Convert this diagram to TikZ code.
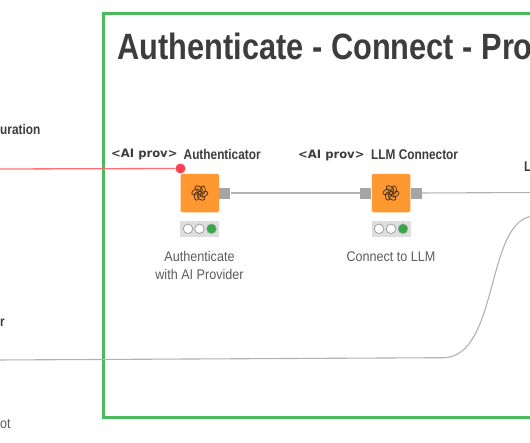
\documentclass[tikz,border=0pt]{standalone}
\usepackage{fontspec}
\setmainfont{Liberation Sans}
\newfontfamily\condfont[FakeStretch=0.84]{Liberation Sans}
\newfontfamily\captionfont[FakeStretch=0.9]{Liberation Sans}
\newfontfamily\provfont{DejaVu Sans}
\usetikzlibrary{calc}
\definecolor{framegreen}{RGB}{76,187,92}
\definecolor{nodeorange}{RGB}{255,152,48}
\definecolor{knotbrown}{RGB}{84,52,24}
\definecolor{portgray}{RGB}{165,165,165}
\definecolor{wiregray}{RGB}{178,178,178}
\definecolor{lampgray}{RGB}{222,222,222}
\definecolor{lampgreen}{RGB}{52,168,70}
\definecolor{flowred}{RGB}{255,112,120}
\definecolor{dotred}{RGB}{250,66,84}
\definecolor{inkdark}{RGB}{62,60,60}
\definecolor{inkgray}{RGB}{92,92,96}

\tikzset{
    knimenode/.style={fill=nodeorange, draw=none, rounded corners=1.5pt, minimum width=38.5pt, minimum height=38.5pt, inner sep=0pt},
    portbox/.style={fill=portgray, draw=none, minimum width=11pt, minimum height=11pt, inner sep=0pt},
    statusbar/.style={fill=lampgray, draw=none, minimum width=39pt, minimum height=15.5pt, inner sep=0pt},
    lampoff/.style={circle, fill=white, draw=gray!80, line width=0.7pt, minimum size=9.5pt, inner sep=0pt},
    lampon/.style={circle, fill=lampgreen, draw=gray!60, line width=0.5pt, minimum size=10pt, inner sep=0pt},
    wire/.style={draw=wiregray, line width=1.1pt},
    knot/.style={draw=knotbrown, line width=0.8pt},
    headlabel/.style={text=inkdark, font=\condfont\bfseries\fontsize{14.1}{16}\selectfont, inner sep=0pt},
    provlabel/.style={text=inkdark, font=\provfont\bfseries\fontsize{11.6}{14}\selectfont, inner sep=0pt},
    caption/.style={text=inkgray, font=\captionfont\fontsize{14}{18}\selectfont, align=center, inner sep=0pt}
}

\begin{document}
\begin{tikzpicture}[x=10pt, y=-10pt]
    \useasboundingbox (0,0) rectangle (53,44.2);
    \fill[white] (0,0) rectangle (53,44.2);

    % Frame
    \draw[framegreen, line width=2.5pt] (54,1.35) -- (10.35,1.35) -- (10.35,41.75) -- (54,41.75);
    \node[text=inkdark, font=\condfont\bfseries\fontsize{36.6}{40}\selectfont, anchor=base west, inner sep=0pt] (title) at (11.75,5.95) {Authenticate - Connect - Pro};

    % Cut off labels
    \node[headlabel, anchor=base west] (leftone) at (0,13.45) {uration};
    \node[headlabel, anchor=base west] (lefttwo) at (0,32.65) {r};
    \node[text=inkgray, font=\captionfont\fontsize{14}{16}\selectfont, anchor=base west, inner sep=0pt] (leftthree) at (0,42.85) {ot};
    \node[headlabel, anchor=base west] (rightone) at (52.4,17.15) {L};

    % Nodes
    \node[knimenode] (auth) at (19.98,19.3) {};
    \node[portbox, anchor=west] (authout) at (auth.east) {};
    \node[statusbar] (authstat) at (19.98,22.88) {};
    \node[lampoff] (authlampa) at (18.8,22.88) {};
    \node[lampoff] (authlampb) at (19.95,22.88) {};
    \node[lampon] (authlampc) at (21.15,22.88) {};

    \node[knimenode] (conn) at (39.1,19.3) {};
    \node[portbox, anchor=east] (connin) at (conn.west) {};
    \node[portbox, anchor=west] (connout) at (conn.east) {};
    \node[statusbar] (connstat) at (39.1,22.88) {};
    \node[lampoff] (connlampa) at (37.9,22.88) {};
    \node[lampoff] (connlampb) at (39.1,22.88) {};
    \node[lampon] (connlampc) at (40.3,22.88) {};

    % Knot icons
    \foreach \a in {0,60,...,300} {
        \draw[knot, shift={(auth.center)}, rotate=\a] (0.42,0.12) ellipse[x radius=0.42, y radius=0.24, rotate=28];
        \draw[knot, shift={(conn.center)}, rotate=\a] (0.42,0.12) ellipse[x radius=0.42, y radius=0.24, rotate=28];
    }

    % Node labels
    \node[provlabel, anchor=base west] (authprov) at (11.1,15.75) {<AI prov>};
    \node[headlabel, anchor=base west] (authhead) at (18.35,15.9) {Authenticator};
    \node[provlabel, anchor=base west] (connprov) at (29.8,15.85) {<AI prov>};
    \node[headlabel, anchor=base west] (connhead) at (37.1,15.9) {LLM Connector};
    \node[caption] (authtext) at (19.95,26.5) {Authenticate\\with AI Provider};
    \node[caption] (conntext) at (39.1,25.7) {Connect to LLM};

    % Connectors
    \coordinate (redstart) at (-0.5,16.9);
    \coordinate (wireend) at (54,19.25);
    \coordinate (lowstart) at (-0.5,36);
    \coordinate (lowbend) at (44.3,35.77);
    \coordinate (lowend) at (53.5,21.6);
    \node[circle, fill=dotred, draw=none, minimum size=10pt, inner sep=0pt] (reddot) at (18.05,16.85) {};
    \draw[flowred, line width=1.3pt] (redstart) -- (reddot);
    \draw[wire] (authout) -- (connin);
    \draw[wire] (connout) -- (wireend);
    \draw[wire] (lowstart) -- (lowbend) .. controls (50,35.77) and (48.5,21.6) .. (lowend);
\end{tikzpicture}
\end{document}
